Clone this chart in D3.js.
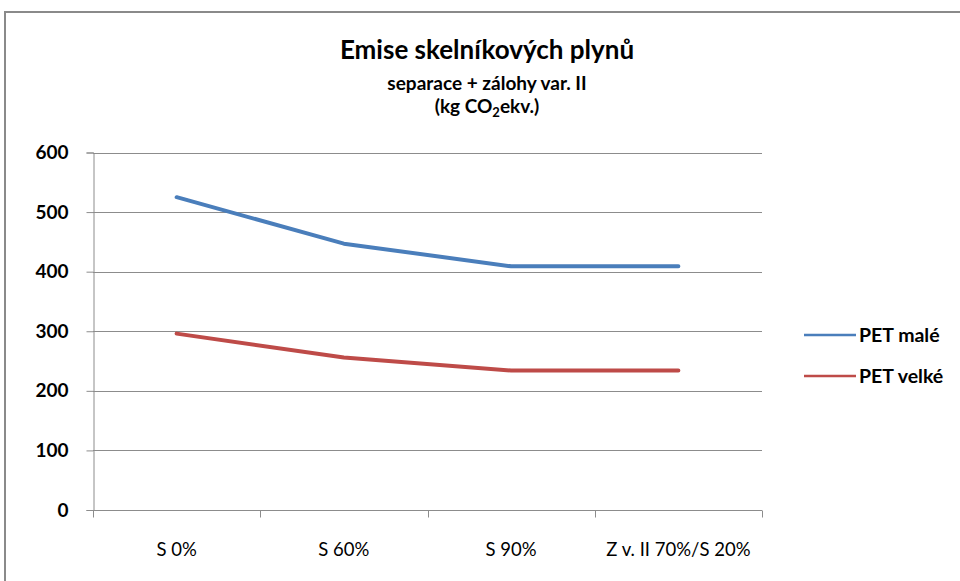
<!DOCTYPE html>
<html>
<head>
<meta charset="utf-8">
<script src="https://cdn.jsdelivr.net/npm/d3@7/dist/d3.min.js"></script>
<style>
  html, body { margin: 0; padding: 0; background: #fff; }
  svg { display: block; }
  text { font-family: Lato, "Open Sans", "Liberation Sans", sans-serif; fill: #000; }
</style>
</head>
<body>
<svg id="chart" width="960" height="581"></svg>
<script>
// Emission values in kg CO2 eq.
const categories = ["S 0%", "S 60%", "S 90%", "Z v. II 70%/S 20%"];
const petMale = [525, 447, 409, 409];
const petVelke = [296, 256, 234, 234];
const seriesNames = ["PET malé", "PET velké"];
const seriesColors = ["#4a7ebb", "#be4b48"];
const yTicks = [0, 100, 200, 300, 400, 500, 600];

const series = [
  { name: seriesNames[0], color: seriesColors[0], values: petMale },
  { name: seriesNames[1], color: seriesColors[1], values: petVelke }
];

const svg = d3.select("#chart");

// outer chart frame
svg.append("rect")
  .attr("x", 5).attr("y", 12)
  .attr("width", 980).attr("height", 600)
  .attr("fill", "none").attr("stroke", "#8a8a8a").attr("stroke-width", 2);

const plot = { left: 93, right: 762, top: 152.5, bottom: 510 };

const x = d3.scaleBand().domain(categories).range([plot.left, plot.right]).padding(0);
const y = d3.scaleLinear().domain([0, 600]).range([plot.bottom, plot.top]);

// horizontal gridlines
svg.append("g")
  .selectAll("line")
  .data(yTicks.filter(d => d > 0))
  .join("line")
  .attr("x1", plot.left).attr("x2", plot.right)
  .attr("y1", d => Math.round(y(d)) + 0.5).attr("y2", d => Math.round(y(d)) + 0.5)
  .attr("stroke", "#8c8c8c").attr("stroke-width", 1);

// y axis
const yAxis = svg.append("g")
  .attr("transform", `translate(${plot.left + 0.5},0)`)
  .call(d3.axisLeft(y).tickValues(yTicks).tickSize(7).tickPadding(18));
yAxis.select(".domain").attr("stroke", "#8c8c8c");
yAxis.selectAll(".tick line").attr("stroke", "#8c8c8c");
yAxis.selectAll(".tick text")
  .style("font-size", "19px").style("font-weight", "bold")
  .style("font-family", "Lato, 'Open Sans', sans-serif");

// x axis with ticks at category boundaries
const boundaries = categories.map(c => x(c)).concat([x.range()[1]]);
const xAxisG = svg.append("g").attr("transform", `translate(0,${Math.round(plot.bottom) + 0.5})`);
xAxisG.append("line")
  .attr("x1", plot.left).attr("x2", plot.right)
  .attr("stroke", "#8c8c8c");
xAxisG.selectAll("line.tk")
  .data(boundaries)
  .join("line").attr("class", "tk")
  .attr("x1", d => Math.round(d) + 0.5).attr("x2", d => Math.round(d) + 0.5)
  .attr("y1", 0).attr("y2", 7)
  .attr("stroke", "#8c8c8c");
xAxisG.selectAll("text")
  .data(categories)
  .join("text")
  .attr("x", d => x(d) + x.bandwidth() / 2)
  .attr("y", 45)
  .attr("text-anchor", "middle")
  .style("font-size", "18.5px")
  .text(d => d);

// lines
const line = d3.line()
  .x((d, i) => x(categories[i]) + x.bandwidth() / 2)
  .y(d => y(d));

svg.append("g")
  .selectAll("path")
  .data(series)
  .join("path")
  .attr("d", d => line(d.values))
  .attr("fill", "none")
  .attr("stroke", d => d.color)
  .attr("stroke-width", 4)
  .attr("stroke-linecap", "round")
  .attr("stroke-linejoin", "round");

// legend
const legend = svg.append("g")
  .selectAll("g")
  .data(series)
  .join("g")
  .attr("transform", (d, i) => `translate(804,${335 + i * 41})`);
legend.append("line")
  .attr("x1", 0).attr("x2", 52)
  .attr("stroke", d => d.color).attr("stroke-width", 2.5);
legend.append("text")
  .attr("x", 55).attr("y", 6.5)
  .style("font-size", "19.5px").style("font-weight", "bold")
  .text(d => d.name);

// title block
const title = svg.append("g").attr("text-anchor", "middle");
title.append("text")
  .attr("x", 487).attr("y", 59)
  .style("font-size", "26px").style("font-weight", "bold")
  .text("Emise skelníkových plynů");
title.append("text")
  .attr("x", 487).attr("y", 90)
  .style("font-size", "19px").style("font-weight", "bold")
  .text("separace + zálohy var. II");
const unit = title.append("text")
  .attr("x", 487).attr("y", 113)
  .style("font-size", "19px").style("font-weight", "bold");
unit.append("tspan").text("(kg CO");
unit.append("tspan").attr("dy", 4).style("font-size", "13px").text("2");
unit.append("tspan").attr("dy", -4).text("ekv.)");
</script>
</body>
</html>
